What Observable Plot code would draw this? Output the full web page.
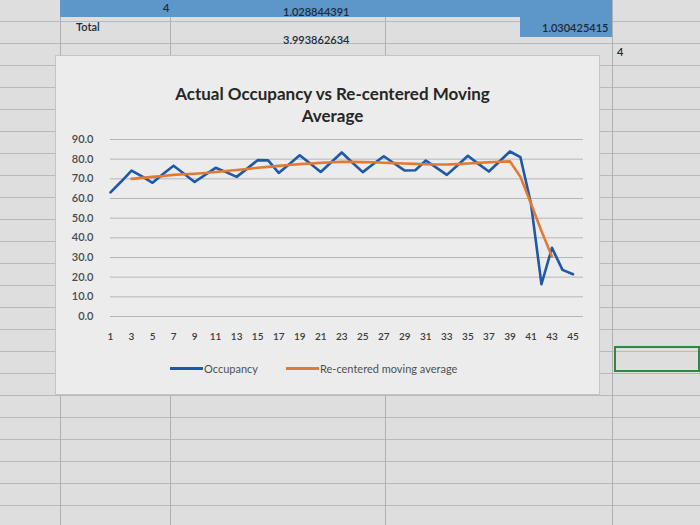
<!DOCTYPE html>
<html>
<head>
<meta charset="utf-8">
<script src="https://cdn.jsdelivr.net/npm/d3@7"></script>
<script src="https://cdn.jsdelivr.net/npm/@observablehq/plot@0.6"></script>
<style>
  html, body { margin: 0; padding: 0; }
  body {
    width: 700px; height: 525px; overflow: hidden; position: relative;
    background-color: #dedede;
    background-image:
      repeating-linear-gradient(to bottom, transparent 0 21px, #b9b9b9 21px 22px);
    font-family: Lato, "Open Sans", "Liberation Sans", sans-serif;
  }
  .vline { position: absolute; top: 0; bottom: 0; width: 1px; background: #b0b0b0; }
  .band { position: absolute; background: #5d96c8; }
  .cell { position: absolute; font-size: 11px; color: #1c2a3a; font-weight: 600; }
  #chartbox {
    position: absolute; left: 55px; top: 55px; width: 545px; height: 340px;
    background: #ececec; border: 1px solid #c4c4c4; box-sizing: border-box;
  }
  #title {
    position: absolute; left: 55px; top: 83px; width: 555px; text-align: center;
    font-size: 17px; font-weight: 700; line-height: 22px; color: #262626;
  }
  #plot { position: absolute; left: 55px; top: 130px; }
  #legend {
    position: absolute; left: 170px; top: 362px; display: flex; gap: 28px;
    font-size: 11px; color: #505050; align-items: center;
  }
  .item { display: flex; align-items: center; }
  .sw { display: inline-block; width: 33px; height: 3px; margin-right: 1px; }
  #greencell { position: absolute; left: 614px; top: 346px; width: 86px; height: 26px; border: 2px solid #2e8b3e; box-sizing: border-box; }
</style>
</head>
<body>
<div class="vline" style="left:60px"></div>
<div class="vline" style="left:170px"></div>
<div class="vline" style="left:385px"></div>
<div class="vline" style="left:612px"></div>
<div class="band" style="left:60px; top:0; width:552px; height:17px;"></div>
<div class="band" style="left:520px; top:17px; width:92px; height:20px;"></div>
<div class="cell" style="left:163px; top:1px;">4</div>
<div class="cell" style="left:283px; top:5px;">1.028844391</div>
<div class="cell" style="left:76px; top:20px;">Total</div>
<div class="cell" style="left:283px; top:33px;">3.993862634</div>
<div class="cell" style="left:542px; top:21px;">1.030425415</div>
<div class="cell" style="left:617px; top:45px;">4</div>
<div id="greencell"></div>

<div id="chartbox"></div>
<div id="title">Actual Occupancy vs Re-centered Moving<br>Average</div>
<div id="plot"></div>
<div id="legend">
  <div class="item"><span class="sw" style="background:#1f58a8"></span>Occupancy</div>
  <div class="item"><span class="sw" style="background:#e07a35"></span>Re-centered moving average</div>
</div>

<script>
// Period numbers (quarters) 1..45
const periods = [1,2,3,4,5,6,7,8,9,10,11,12,13,14,15,16,17,18,19,20,21,22,23,24,25,26,27,28,29,30,31,32,33,34,35,36,37,38,39,40,41,42,43,44,45];
// Occupancy
const occupancy = [63.1,68.5,74.2,71.2,68.0,72.5,76.7,72.6,68.4,72.0,75.6,73.4,71.0,75.2,79.5,79.4,73.0,77.4,82.0,77.8,73.5,78.4,83.4,78.3,73.4,77.5,81.5,77.8,74.2,74.4,79.3,75.7,72.0,76.8,81.7,77.6,73.7,78.8,83.9,81.0,57.5,16.4,34.9,23.7,21.5];
// Re-centered moving average covers periods 3..43
const cmaPeriods = [3,4,5,6,7,8,9,10,11,12,13,14,15,16,17,18,19,20,21,22,23,24,25,26,27,28,29,30,31,32,33,34,35,36,37,38,39,40,41,42,43];
const cmaValues = [70.0,70.5,71.0,71.4,72.0,72.3,72.6,73.0,73.5,74.0,74.5,75.0,75.6,76.1,76.6,77.0,77.5,77.8,78.1,78.4,78.6,78.6,78.5,78.4,78.2,78.0,77.8,77.6,77.4,77.3,77.3,77.5,77.8,78.1,78.4,78.7,78.9,71.0,57.5,43.5,30.5];
// Axis ticks
const xTicks = [1,3,5,7,9,11,13,15,17,19,21,23,25,27,29,31,33,35,37,39,41,43,45];
const yTicks = [0,10,20,30,40,50,60,70,80,90];

const occData = periods.map((p, i) => ({period: p, value: occupancy[i]}));
const cmaData = cmaPeriods.map((p, i) => ({period: p, value: cmaValues[i]}));

const chart = Plot.plot({
  width: 545,
  height: 216,
  marginLeft: 55,
  marginRight: 17,
  marginTop: 9,
  marginBottom: 30,
  style: {background: "transparent", fontFamily: "Lato, 'Open Sans', sans-serif", overflow: "visible"},
  x: {domain: [1, 46], ticks: xTicks, tickFormat: d => String(d), tickSize: 0, tickPadding: 16, label: null},
  y: {domain: [0, 90], ticks: yTicks, tickFormat: d => d.toFixed(1), tickSize: 0, tickPadding: 17, label: null},
  marks: [
    Plot.ruleY(yTicks, {stroke: "#b6b6b6", strokeWidth: 1}),
    Plot.line(occData, {x: "period", y: "value", stroke: "#1f58a8", strokeWidth: 2.6, strokeLinejoin: "round"}),
    Plot.line(cmaData, {x: "period", y: "value", stroke: "#e07a35", strokeWidth: 2.6, strokeLinejoin: "round"})
  ]
});
chart.querySelectorAll("g[aria-label='x-axis tick label'] text, g[aria-label='y-axis tick label'] text").forEach(t => {
  t.setAttribute("font-weight", "600");
});
d3.select(chart).selectAll("g[aria-label='x-axis tick label']").attr("font-size", 10).attr("fill", "#3a3a3a");
d3.select(chart).selectAll("g[aria-label='y-axis tick label']").attr("font-size", 11).attr("fill", "#4a4a4a");
document.getElementById("plot").appendChild(chart);
</script>
</body>
</html>
